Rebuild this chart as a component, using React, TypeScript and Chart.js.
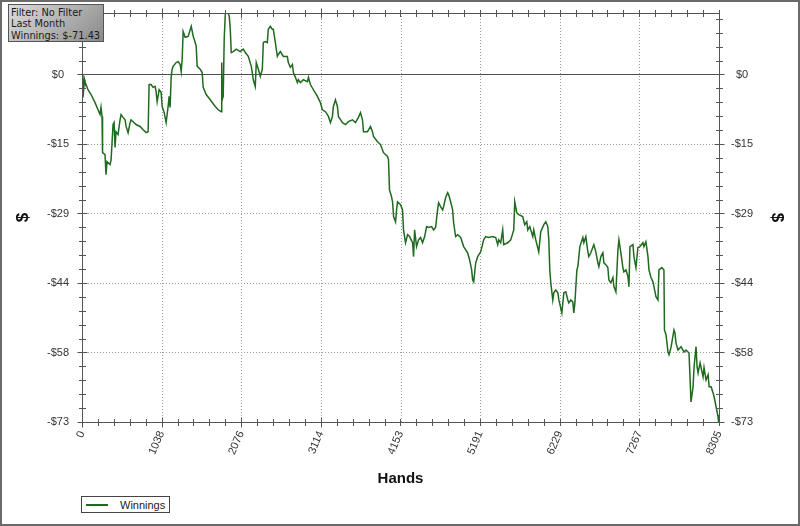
import React, { useEffect, useRef } from "react";
import { Chart, registerables } from "chart.js";

Chart.register(...registerables);

// ---- data ----
const hands = [
  0, 13, 33, 39, 78, 118, 170, 209, 235, 248, 261, 268, 300, 313, 326, 366, 379, 405, 418, 431,
  444, 470, 496, 509, 535, 562, 575, 601, 627, 640, 666, 705, 757, 797, 836, 862, 875, 901, 927, 953,
  966, 980, 1006, 1032, 1045, 1071, 1097, 1123, 1136, 1149, 1162, 1175, 1188, 1228, 1254, 1280, 1293, 1306, 1319, 1345,
  1384, 1424, 1450, 1476, 1489, 1502, 1541, 1567, 1580, 1619, 1672, 1737, 1776, 1815, 1822, 1828, 1841, 1854, 1868, 1894,
  1920, 1933, 1946, 1972, 2011, 2063, 2103, 2129, 2168, 2207, 2220, 2233, 2259, 2272, 2299, 2325, 2351, 2364, 2390, 2416,
  2429, 2455, 2481, 2494, 2521, 2547, 2560, 2586, 2625, 2677, 2690, 2716, 2743, 2756, 2782, 2808, 2821, 2847, 2886, 2939,
  2952, 2978, 3017, 3069, 3108, 3134, 3174, 3213, 3239, 3265, 3278, 3304, 3330, 3343, 3396, 3435, 3474, 3526, 3565, 3604,
  3631, 3657, 3670, 3722, 3761, 3787, 3800, 3853, 3892, 3931, 3983, 3996, 4009, 4035, 4049, 4062, 4088, 4101, 4114, 4153,
  4179, 4192, 4218, 4245, 4271, 4310, 4323, 4336, 4362, 4388, 4414, 4440, 4467, 4493, 4519, 4558, 4584, 4610, 4636, 4649,
  4675, 4702, 4715, 4741, 4767, 4780, 4806, 4832, 4845, 4871, 4898, 4937, 4976, 5028, 5054, 5080, 5093, 5107, 5133, 5159,
  5198, 5237, 5263, 5302, 5355, 5394, 5420, 5433, 5459, 5485, 5498, 5551, 5590, 5629, 5642, 5668, 5694, 5746, 5772, 5799,
  5812, 5838, 5877, 5890, 5916, 5955, 5981, 6021, 6047, 6073, 6086, 6099, 6112, 6138, 6151, 6177, 6204, 6217, 6256, 6282,
  6308, 6334, 6347, 6373, 6399, 6412, 6426, 6452, 6465, 6491, 6530, 6543, 6569, 6595, 6608, 6634, 6673, 6699, 6726, 6739,
  6765, 6791, 6804, 6830, 6856, 6869, 6896, 6922, 6935, 6961, 6987, 7000, 7026, 7052, 7065, 7092, 7118, 7131, 7144, 7183,
  7196, 7222, 7248, 7274, 7313, 7326, 7352, 7379, 7392, 7418, 7444, 7457, 7483, 7509, 7522, 7561, 7587, 7594, 7614, 7640,
  7653, 7679, 7718, 7731, 7744, 7770, 7810, 7849, 7875, 7901, 7914, 7940, 7967, 7980, 8006, 8019, 8032, 8058, 8097, 8110,
  8136, 8163, 8176, 8202, 8228, 8241, 8267, 8293, 8299, 8305,
];

const winnings = [
  0, -4.8, -1.1, -1.5, -3.2, -4.2, -5.9, -7.4, -8.4, -6.9, -8.8, -16.4, -16.8, -21.0, -18.3, -18.9, -17.9, -10.5, -10.1, -15.3,
  -12.0, -12.6, -9.5, -8.4, -9.0, -9.5, -10.9, -12.2, -10.1, -9.5, -9.9, -10.5, -10.9, -11.6, -12.2, -12.0, -2.1, -2.1, -2.7, -2.5,
  -3.6, -5.7, -3.2, -3.8, -6.7, -8.0, -10.1, -6.7, -4.6, -6.9, -0.6, 1.1, 1.7, 2.5, 2.7, 2.1, 0.6, 3.2, 9.0, 7.8,
  8.0, 10.1, 8.0, 6.7, 5.9, 1.7, 1.1, 0.4, -2.7, -4.2, -5.3, -6.7, -7.4, -7.8, 2.5, -5.3, -4.6, 7.4, 12.6, 13.4,
  12.2, 9.5, 4.6, 4.8, 5.3, 4.8, 5.3, 4.6, 3.8, 1.7, 0.4, -1.1, -2.5, 2.5, 1.1, -0.4, 1.1, 6.7, 6.9, 6.7,
  9.5, 10.1, 9.5, 9.5, 6.7, 3.8, 4.2, 4.8, 3.8, 3.8, 2.5, 1.5, 2.1, 0.4, -0.6, -1.7, -1.1, -1.7, -1.1, -1.5,
  -0.6, -2.1, -3.2, -4.6, -5.9, -7.4, -7.8, -8.8, -10.1, -8.8, -6.7, -5.3, -6.7, -8.8, -10.1, -10.5, -9.9, -9.5, -10.1, -9.0,
  -8.0, -9.5, -12.0, -12.0, -10.9, -12.0, -13.0, -14.1, -14.7, -16.4, -17.2, -17.9, -24.2, -25.6, -26.7, -29.8, -30.9, -28.4, -26.7, -27.3,
  -28.4, -32.6, -35.3, -33.6, -34.0, -35.3, -38.2, -32.6, -36.1, -34.7, -34.2, -35.3, -34.0, -31.9, -32.1, -31.9, -32.6, -32.1, -28.4, -26.9,
  -27.7, -28.4, -27.7, -25.8, -24.8, -25.2, -26.7, -28.4, -31.1, -34.0, -33.6, -34.2, -36.1, -37.4, -38.9, -41.0, -43.1, -43.5, -39.5, -38.2,
  -37.2, -34.7, -34.0, -34.2, -34.0, -34.2, -35.7, -34.7, -35.3, -32.6, -35.7, -35.3, -34.7, -32.6, -26.7, -29.0, -29.4, -29.8, -31.5, -30.9,
  -32.6, -31.9, -34.0, -32.6, -34.7, -37.2, -33.0, -31.5, -30.9, -31.9, -34.7, -41.0, -43.7, -47.3, -45.8, -45.2, -45.8, -47.3, -50.0, -45.8,
  -45.6, -47.3, -47.9, -47.3, -47.7, -50.0, -47.9, -41.0, -40.3, -36.1, -34.2, -35.3, -34.0, -37.2, -38.2, -37.4, -35.7, -37.2, -39.5, -40.3,
  -38.2, -37.4, -39.5, -39.9, -40.5, -43.1, -43.7, -42.6, -44.5, -45.6, -36.8, -34.7, -37.4, -40.5, -41.4, -41.0, -42.4, -44.5, -36.1, -35.7,
  -38.2, -40.5, -36.3, -36.1, -35.3, -36.1, -35.1, -38.2, -41.0, -42.6, -43.5, -44.5, -46.6, -47.3, -41.0, -40.5, -41.0, -53.6, -54.6, -58.2,
  -58.8, -57.3, -53.6, -54.2, -56.3, -57.8, -57.1, -58.2, -57.8, -58.2, -58.4, -68.7, -65.5, -61.3, -57.1, -61.3, -62.6, -60.5, -63.4, -61.5,
  -64.1, -63.0, -65.5, -65.5, -66.8, -67.6, -69.7, -71.8, -72.9, -71.43,
];

const xTickValues = [0, 1038, 2076, 3114, 4153, 5191, 6229, 7267, 8305];
const xTickLabels = ["0", "1038", "2076", "3114", "4153", "5191", "6229", "7267", "8305"];
const yTickValues = [0, -14.58, -29.16, -43.74, -58.32, -72.9];
const yTickLabels = ["$0", "-$15", "-$29", "-$44", "-$58", "-$73"];
const yMin = -72.9;
const yMax = 12.9;
const xMin = 0;
const xMax = 8305;
const minorDivisions = 5;

const seriesLabel = "Winnings";
const infoLines = ["Filter: No Filter", "Last Month", "Winnings: $-71.43"];

const LINE_COLOR = "#1f6a1f";
const FONT = "'Liberation Sans', Arial, sans-serif";

function minorValues(majors: number[], lo: number, hi: number) {
  const step = Math.abs(majors[1] - majors[0]) / minorDivisions;
  const base = majors[0];
  const out: number[] = [];
  const kLo = Math.ceil((lo - base) / step - 1e-6);
  const kHi = Math.floor((hi - base) / step + 1e-6);
  for (let k = kLo; k <= kHi; k++) out.push(base + k * step);
  return out;
}

const framePlugin = {
  id: "frameTicks",
  beforeDatasetsDraw(chart: any) {
    const { ctx, chartArea: a, scales } = chart;
    const xs = scales.x;
    const ys = scales.y;
    ctx.save();
    ctx.lineWidth = 1;
    ctx.strokeStyle = "#9c9c9c";
    ctx.setLineDash([1, 2]);
    xTickValues.forEach((v) => {
      const px = Math.round(xs.getPixelForValue(v)) + 0.5;
      ctx.beginPath();
      ctx.moveTo(px, a.top);
      ctx.lineTo(px, a.bottom);
      ctx.stroke();
    });
    yTickValues.forEach((v) => {
      if (v === 0) return;
      const py = Math.round(ys.getPixelForValue(v)) + 0.5;
      ctx.beginPath();
      ctx.moveTo(a.left, py);
      ctx.lineTo(a.right, py);
      ctx.stroke();
    });
    ctx.setLineDash([]);
    ctx.strokeStyle = "#505050";
    const zy = Math.round(ys.getPixelForValue(0)) + 0.5;
    ctx.beginPath();
    ctx.moveTo(a.left, zy);
    ctx.lineTo(a.right, zy);
    ctx.stroke();
    ctx.restore();
  },
  afterDatasetsDraw(chart: any) {
    const { ctx, chartArea: a, scales } = chart;
    const xs = scales.x;
    const ys = scales.y;
    ctx.save();
    ctx.lineWidth = 1;
    ctx.strokeStyle = "#555555";
    const L = Math.round(a.left) + 0.5;
    const R = Math.round(a.right) + 0.5;
    const T = Math.round(a.top) + 0.5;
    const B = Math.round(a.bottom) + 0.5;
    ctx.strokeRect(L, T, R - L, B - T);
    const seg = (x1: number, y1: number, x2: number, y2: number) => {
      ctx.beginPath();
      ctx.moveTo(x1, y1);
      ctx.lineTo(x2, y2);
      ctx.stroke();
    };
    const xMinor = minorValues(xTickValues, xMin, xMax);
    xMinor.forEach((v) => {
      const major = xTickValues.some((m) => Math.abs(m - v) < 1);
      const len = major ? 5 : 3.5;
      const px = Math.round(xs.getPixelForValue(v)) + 0.5;
      seg(px, B - len, px, B + len);
      seg(px, T - len, px, T + len);
    });
    const yMinor = minorValues(yTickValues, yMin, yMax);
    yMinor.forEach((v) => {
      const major = yTickValues.some((m) => Math.abs(m - v) < 0.01);
      const len = major ? 5 : 3.5;
      const py = Math.round(ys.getPixelForValue(v)) + 0.5;
      seg(L - len, py, L + len, py);
      seg(R - len, py, R + len, py);
    });
    ctx.restore();
  },
};

export default function App() {
  const canvasRef = useRef<HTMLCanvasElement | null>(null);

  useEffect(() => {
    document.body.style.margin = "0";
    const canvas = canvasRef.current;
    if (!canvas) return;
    const points = hands.map((h, i) => ({ x: h, y: winnings[i] }));
    const yCommon = (position: "left" | "right", pad: number, width: number) => ({
      type: "linear" as const,
      position,
      min: yMin,
      max: yMax,
      afterBuildTicks: (scale: any) => {
        scale.ticks = yTickValues.map((v) => ({ value: v }));
      },
      afterFit: (scale: any) => {
        scale.width = width;
        scale.paddingTop = 0;
        scale.paddingBottom = 0;
      },
      grid: { display: false, drawTicks: false },
      border: { display: false },
      ticks: {
        crossAlign: "center" as const,
        padding: pad,
        color: "#333333",
        font: { family: FONT, size: 11 },
        callback: (_v: any, i: number) => yTickLabels[i],
      },
      title: {
        display: true,
        text: "$",
        color: "#111111",
        font: { family: FONT, size: 17, weight: "bold" as const },
        padding: { top: 13, bottom: 0 },
      },
    });

    const chart = new Chart(canvas, {
      type: "line",
      data: {
        datasets: [
          {
            label: seriesLabel,
            data: points,
            borderColor: LINE_COLOR,
            backgroundColor: LINE_COLOR,
            borderWidth: 1.5,
            pointRadius: 0,
            tension: 0,
            fill: false,
          },
        ],
      },
      options: {
        animation: false,
        responsive: false,
        parsing: false as any,
        layout: { padding: { top: 13, bottom: 36, left: 0, right: 0 } },
        plugins: {
          legend: { display: false },
          tooltip: { enabled: false },
        },
        scales: {
          x: {
            type: "linear",
            position: "bottom",
            min: xMin,
            max: xMax,
            afterBuildTicks: (scale: any) => {
              scale.ticks = xTickValues.map((v) => ({ value: v }));
            },
            afterFit: (scale: any) => {
              scale.height = 68;
              scale.paddingLeft = 0;
              scale.paddingRight = 0;
            },
            grid: { display: false, drawTicks: false },
            border: { display: false },
            ticks: {
              minRotation: 67,
              maxRotation: 67,
              autoSkip: false,
              padding: 7,
              color: "#333333",
              font: { family: FONT, size: 11 },
              callback: (_v: any, i: number) => xTickLabels[i],
            },
            title: {
              display: true,
              text: "Hands",
              color: "#111111",
              font: { family: FONT, size: 15, weight: "bold" },
              padding: { top: 0, bottom: 2 },
            },
          },
          y: yCommon("left", 13, 82),
          y2: yCommon("right", 12, 81),
        },
      },
      plugins: [framePlugin],
    });
    return () => chart.destroy();
  }, []);

  return (
    <div style={{ position: "relative", width: 800, height: 526, background: "#ffffff", overflow: "hidden" }}>
      <canvas ref={canvasRef} width={800} height={526} style={{ display: "block", width: 800, height: 526 }} />
      <div
        style={{
          position: "absolute",
          left: 8,
          top: 4,
          width: 96,
          height: 38,
          boxSizing: "border-box",
          border: "1px solid #555",
          background: "linear-gradient(135deg, #dcdcdc 0%, #b0b0b0 55%, #8a8a8a 100%)",
          fontFamily: "'DejaVu Sans', Verdana, sans-serif",
          fontSize: 9.8,
          lineHeight: "11.4px",
          color: "#1a1a1a",
          padding: "2px 0 0 2px",
          whiteSpace: "nowrap",
        }}
      >
        {infoLines.map((t) => (
          <div key={t}>{t}</div>
        ))}
      </div>
      <div
        style={{
          position: "absolute",
          left: 81,
          top: 496,
          width: 89,
          height: 17,
          boxSizing: "border-box",
          border: "1px solid #444",
          background: "#fff",
          fontFamily: FONT,
          fontSize: 11,
          color: "#222",
          display: "flex",
          alignItems: "center",
        }}
      >
        <span style={{ display: "inline-block", width: 22, height: 2, background: LINE_COLOR, marginLeft: 4, marginRight: 12 }} />
        <span>{seriesLabel}</span>
      </div>
      <div
        style={{
          position: "absolute",
          left: 0,
          top: 0,
          width: 800,
          height: 526,
          boxSizing: "border-box",
          border: "2px solid #6a6a6a",
          pointerEvents: "none",
        }}
      />
    </div>
  );
}
